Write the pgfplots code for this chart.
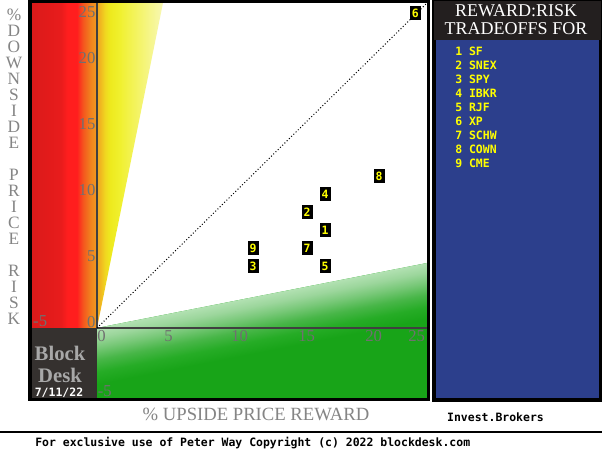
\documentclass[border=0pt]{standalone}
\usepackage{fontspec}
\setmainfont{Liberation Serif}
\newfontfamily\monofont{DejaVu Sans Mono}
\usepackage{pgfplots}
\usepackage{pgfplotstable}
\pgfplotsset{compat=1.18}

\definecolor{r1}{HTML}{DA1A1A}
\definecolor{r2}{HTML}{E81C1C}
\definecolor{r3}{HTML}{FF1E1E}
\definecolor{r4}{HTML}{F45A1E}
\definecolor{r5}{HTML}{F0821E}
\definecolor{r6}{HTML}{F09C20}
\definecolor{y1}{HTML}{F0A420}
\definecolor{y2}{HTML}{F0BC20}
\definecolor{y3}{HTML}{F0D620}
\definecolor{y4}{HTML}{EEEA1E}
\definecolor{y5}{HTML}{F0F02E}
\definecolor{y6}{HTML}{F4F46A}
\definecolor{y7}{HTML}{F8F8B4}
\definecolor{g1}{HTML}{18A418}
\definecolor{g2}{HTML}{26AC26}
\definecolor{g3}{HTML}{48B648}
\definecolor{g4}{HTML}{78C878}
\definecolor{g5}{HTML}{9CD69C}
\definecolor{g6}{HTML}{B4E2B4}
\definecolor{darkbox}{HTML}{35312F}
\definecolor{headbg}{HTML}{231F1F}
\definecolor{panelblue}{HTML}{2C3F8C}
\definecolor{tickgray}{HTML}{707070}
\definecolor{labgray}{HTML}{858585}
\definecolor{bdgray}{HTML}{A8A8A8}
\definecolor{zeroline}{HTML}{404040}
\definecolor{mkyellow}{HTML}{FFFF00}

\pgfdeclarehorizontalshading{redsh}{100bp}{color(0bp)=(r1); color(25bp)=(r1); color(48bp)=(r2); color(53bp)=(r3); color(60bp)=(r3); color(65bp)=(r4); color(70bp)=(r5); color(75bp)=(r6); color(100bp)=(r6)}
\pgfdeclarehorizontalshading{yelsh}{100bp}{color(0bp)=(y1); color(25bp)=(y1); color(28bp)=(y2); color(31bp)=(y3); color(35bp)=(y4); color(42bp)=(y5); color(57bp)=(y6); color(75bp)=(y7); color(100bp)=(y7)}
\pgfdeclareverticalshading{greensh}{100bp}{color(0bp)=(g1); color(25bp)=(g1); color(61bp)=(g1); color(64bp)=(g2); color(67bp)=(g3); color(70bp)=(g4); color(72.5bp)=(g5); color(75bp)=(g6); color(100bp)=(g6)}

\pgfplotstableread{
x y lab
17.01 7.42 1
15.67 8.79 2
11.64 4.70 3
17.01 10.15 4
17.01 4.70 5
23.75 23.86 6
15.67 6.06 7
21.04 11.52 8
11.64 6.06 9
}\pts

\newcommand{\tickfont}{\fontsize{12.5pt}{14pt}\selectfont}
\newcommand{\monob}{\monofont\bfseries\fontsize{8.6pt}{10pt}\selectfont}

\begin{document}
\begin{tikzpicture}[x=0.75pt,y=0.75pt]
\path[use as bounding box] (0,0) rectangle (602,460);
\fill[white] (0,0) rectangle (602,460);

\begin{axis}[
  at={(22.5pt,45.75pt)}, anchor=south west,
  scale only axis, width=298.5pt, height=297.75pt,
  xmin=-5, xmax=24.7, ymin=-5.38, ymax=24.7,
  hide axis, clip=true,
]
% zones
\addplot[draw=none, shading=redsh, mark=none] coordinates {(-5,0) (0,0) (0,24.7) (-5,24.7)} -- cycle;
\addplot[draw=none, fill=darkbox, mark=none] coordinates {(-5,-5.38) (0,-5.38) (0,0) (-5,0)} -- cycle;
\addplot[draw=none, shading=yelsh, mark=none] coordinates {(0,0) (0,24.7) (4.94,24.7)} -- cycle;
\addplot[draw=none, fill=g1, mark=none] coordinates {(0,0) (24.7,4.94) (24.7,-5.38) (0,-5.38)} -- cycle;
% light band of the green zone, running parallel to its upper edge
\begin{scope}
  \clip (axis cs:0,0) -- (axis cs:24.7,4.94) -- (axis cs:24.7,-5.38) -- (axis cs:0,-5.38) -- cycle;
  \begin{scope}[transform canvas={rotate around={11.15:(axis cs:0,0)}}]
    \shade[shading=greensh] ([shift={(-45pt,0.75pt)}]axis cs:0,0) rectangle ([shift={(270pt,-150pt)}]axis cs:0,0);
  \end{scope}
\end{scope}
% zero lines and diagonal
\addplot[zeroline, line width=0.8pt, mark=none] coordinates {(0,0) (0,24.7)};
\addplot[zeroline, line width=0.8pt, mark=none] coordinates {(0,0) (24.7,0)};
\addplot[black, line width=0.75pt, dash pattern=on 0.75pt off 1.6pt, mark=none] coordinates {(0,0) (24.7,24.7)};
% markers
\addplot[only marks, mark=square*, mark size=3.75pt, mark options={black, yscale=1.3},
  nodes near coords, point meta=explicit symbolic,
  every node near coord/.append style={anchor=center, text=mkyellow, font=\monob, inner sep=0pt}]
  table[x=x, y=y, meta=lab] {\pts};
% tick labels
\pgfplotsinvokeforeach{0,5,10,15,20}{
  \node[anchor=south east, inner sep=0pt, text=tickgray, font=\tickfont, xshift=-1pt] at (axis cs:0,#1) {#1};
  \node[anchor=north west, inner sep=0pt, text=tickgray, font=\tickfont, yshift=-1.5pt] at (axis cs:#1,0) {#1};
}
\node[anchor=north east, inner sep=0pt, text=tickgray, font=\tickfont, xshift=-1pt, yshift=-3pt] at (axis cs:0,24.7) {25};
\node[anchor=north east, inner sep=0pt, text=tickgray, font=\tickfont, xshift=-2pt, yshift=-1.5pt] at (axis cs:24.7,0) {25};
\node[anchor=south west, inner sep=0pt, text=tickgray, font=\tickfont, xshift=2.2pt, yshift=0.5pt] at (axis cs:-5,0) {-5};
\node[anchor=south west, inner sep=0pt, text=tickgray, font=\tickfont, xshift=0.5pt, yshift=1.5pt] at (axis cs:0,-5.38) {-5};
\end{axis}

% plot frame
\draw[black, line width=2.6pt] (30,60.3) rectangle (428.7,458.5);

% block desk
\node[text=bdgray, font=\bfseries\fontsize{15.5pt}{17pt}\selectfont, inner sep=0pt] at (60,107) {Block};
\node[text=bdgray, font=\bfseries\fontsize{15.5pt}{17pt}\selectfont, inner sep=0pt] at (60,85) {Desk};
\node[text=white, font=\monob, inner sep=0pt] at (59,67) {7/11/22};

% panel
\fill[black] (432,58.5) rectangle (602,460);
\fill[headbg] (434,420) rectangle (601,458.5);
\fill[panelblue] (436,61.7) rectangle (598.5,419.5);
\node[text=white, font=\fontsize{13.5pt}{15pt}\selectfont, anchor=base, inner sep=0pt] at (516,443) {REWARD:RISK};
\node[text=white, font=\fontsize{13.5pt}{15pt}\selectfont, anchor=base, inner sep=0pt] at (516,425) {TRADEOFFS FOR};
\foreach \i/\n [count=\k from 0] in {1/SF,2/SNEX,3/SPY,4/IBKR,5/RJF,6/XP,7/SCHW,8/COWN,9/CME} {
  \node[text=mkyellow, font=\monob, anchor=base west, inner sep=0pt] at (455,{404-14*\k}) {\i\ \n};
}

% axis titles
\node[text=labgray, font=\fontsize{14pt}{16pt}\selectfont, anchor=base, inner sep=0pt] at (256,40) {\% UPSIDE PRICE REWARD};
\node[text=labgray, font=\fontsize{13pt}{12pt}\selectfont, align=center, inner sep=0pt] at (14,293.5)
  {\%\\D\\O\\W\\N\\S\\I\\D\\E\\\mbox{}\\P\\R\\I\\C\\E\\\mbox{}\\R\\I\\S\\K};

\node[text=black, font=\monob, anchor=base, inner sep=0pt] at (495.5,39) {Invest.Brokers};
\draw[black, line width=1.1pt] (0,28) -- (602,28);
\node[text=black, font=\monob, anchor=base west, inner sep=0pt] at (35,14) {For exclusive use of Peter Way Copyright (c) 2022 blockdesk.com};
\end{tikzpicture}
\end{document}
